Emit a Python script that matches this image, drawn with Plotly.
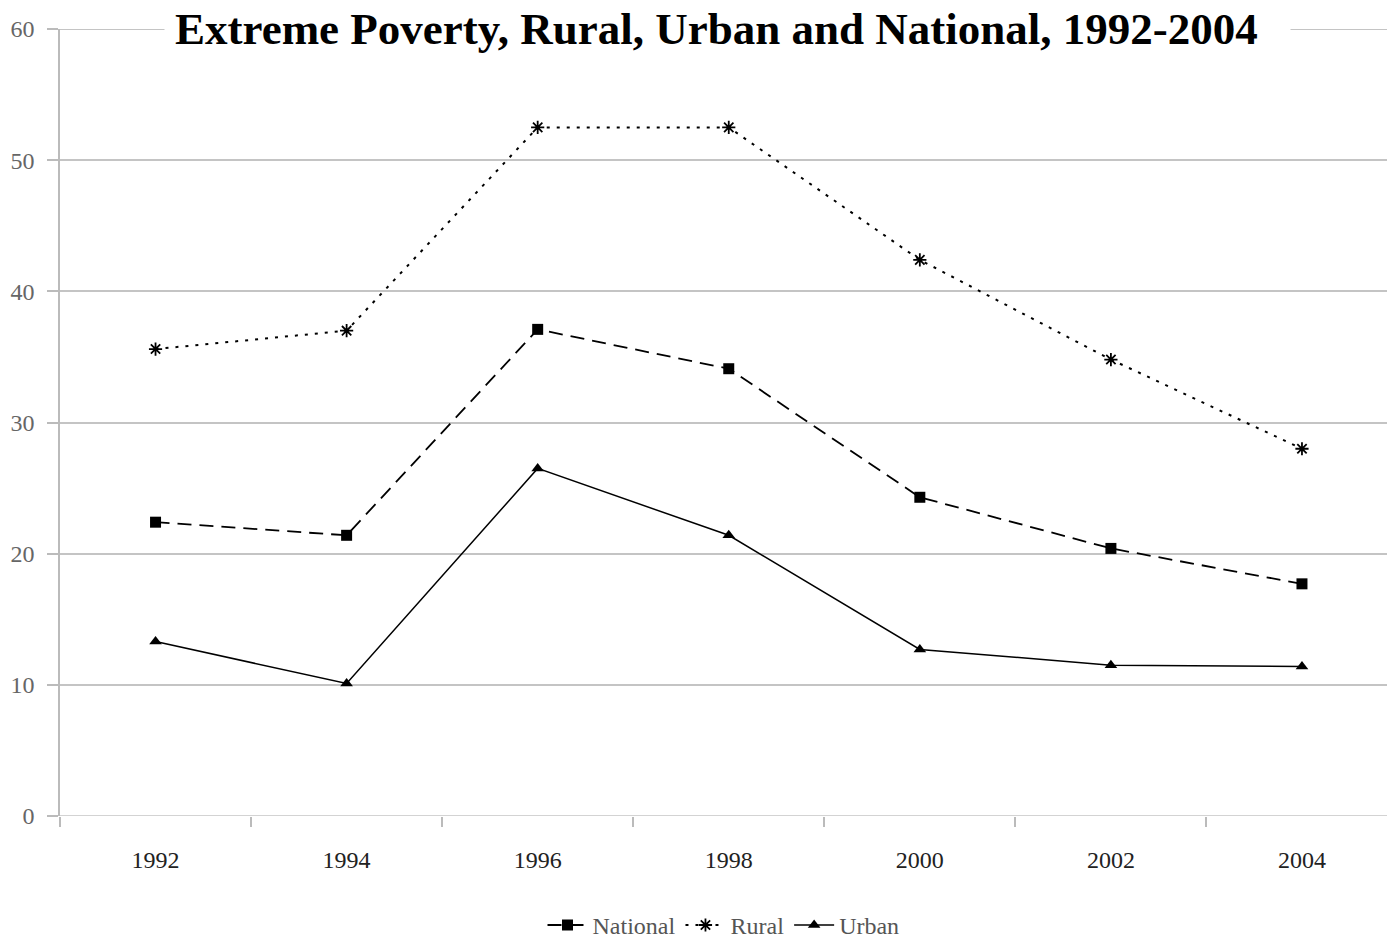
import plotly.graph_objects as go

years = [1992, 1994, 1996, 1998, 2000, 2002, 2004]
national = [22.4, 21.4, 37.1, 34.1, 24.3, 20.4, 17.7]
rural = [35.6, 37.0, 52.5, 52.5, 42.4, 34.8, 28.0]
urban = [13.3, 10.1, 26.5, 21.4, 12.7, 11.5, 11.4]
yticks = [0, 10, 20, 30, 40, 50, 60]
title = "Extreme Poverty, Rural, Urban and National, 1992-2004"

FONT = "Liberation Serif"

fig = go.Figure()
fig.add_trace(go.Scatter(x=years, y=national, name="National", mode="lines+markers",
                         line=dict(color="black", width=1.8, dash="14px,8px"),
                         marker=dict(symbol="square", size=11, color="black")))
fig.add_trace(go.Scatter(x=years, y=rural, name="Rural", mode="lines+markers",
                         line=dict(color="black", width=2, dash="3px,7px"),
                         marker=dict(symbol="asterisk-open", size=11, color="black",
                                     line=dict(color="black", width=1.8))))
fig.add_trace(go.Scatter(x=years, y=urban, name="Urban", mode="lines+markers",
                         line=dict(color="black", width=1.5),
                         marker=dict(symbol="triangle-up", size=11, color="black")))

fig.update_layout(
    width=1387, height=940,
    margin=dict(l=60, r=0, t=29, b=124, autoexpand=False),
    plot_bgcolor="white", paper_bgcolor="white",
    showlegend=True,
    legend=dict(orientation="h", x=0.5, xanchor="center", y=-0.139, yanchor="middle",
                font=dict(family=FONT, size=24, color="#555555"), itemwidth=40),
    xaxis=dict(range=[1991, 2004.89], tickvals=years, ticktext=[str(y) for y in years],
               ticks="", showgrid=False, zeroline=False, showline=False,
               tickfont=dict(family=FONT, size=24, color="#222222"),
               minor=dict(tickvals=[1991, 1993, 1995, 1997, 1999, 2001, 2003],
                          ticks="outside", ticklen=10, tickcolor="#bbbbbb", tickwidth=1.5),
               ticklabelstandoff=27),
    yaxis=dict(range=[0, 60], tickvals=yticks, showgrid=True, gridcolor="#c4c4c4", gridwidth=1.5,
               zeroline=False, showline=True, linecolor="#bbbbbb", linewidth=1.5,
               ticks="outside", ticklen=11, tickcolor="#bbbbbb", tickwidth=1.5,
               ticklabelstandoff=8,
               tickfont=dict(family=FONT, size=24, color="#666666")),
)
for yv in (0, 60):
    fig.add_shape(type="line", xref="paper", yref="y", x0=0, x1=1, y0=yv, y1=yv,
                  line=dict(color="#b0b0b0" if yv == 60 else "#c4c4c4", width=1.5), layer="below")
fig.add_annotation(text="<b>" + title + "</b>&nbsp;&nbsp;", xref="paper", yref="paper",
                   x=0.503, y=1.0, xanchor="center", yanchor="middle", showarrow=False,
                   font=dict(family=FONT, size=45, color="black"),
                   bgcolor="white", borderpad=10, yshift=0)

fig.write_html("out.html")
